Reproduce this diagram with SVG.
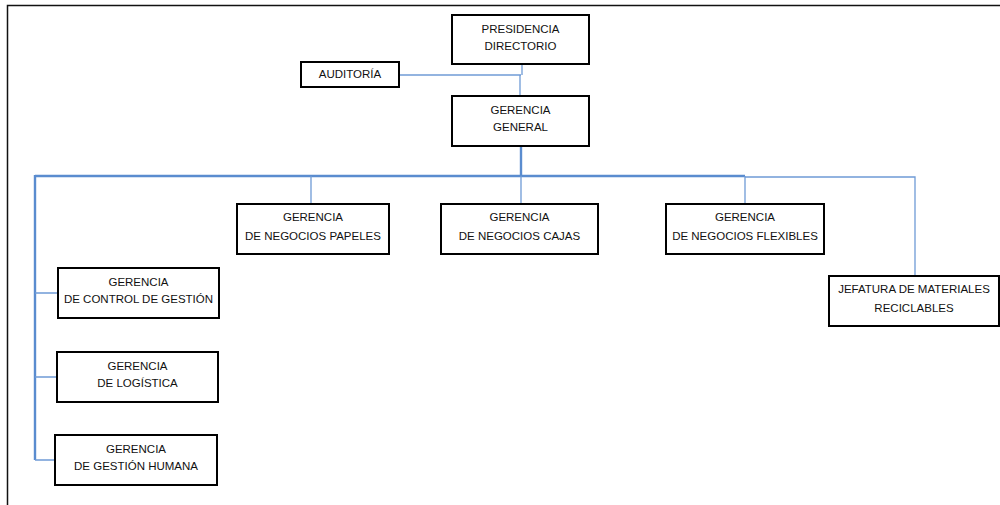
<svg xmlns="http://www.w3.org/2000/svg" width="1000" height="505" viewBox="0 0 1000 505">
<style>
.box{fill:#fff;stroke:#000;stroke-width:2}
.t{font-family:"Liberation Sans",Arial,sans-serif;font-size:11.5px;fill:#111;text-anchor:middle}
.c{fill:none;stroke:#6f9bd6;stroke-width:1.3}
.ct{fill:none;stroke:#5a8ccf;stroke-width:2.4}
.frame{fill:none;stroke:#111;stroke-width:1.5}
</style>
<rect width="1000" height="505" fill="#fff"/>
<path class="frame" d="M7.5,505 V5.5 H1000"/>
<g id="connectors">
<path class="c" d="M399,75 H521"/>
<path class="c" d="M522,64 V75 M520,75 V96"/>
<path class="ct" d="M521,146 V176"/>
<path class="ct" d="M35,176 H745"/>
<path class="c" d="M745,177 H915 V276"/>
<path class="c" d="M311,176 V204 M521,176 V204 M745,176 V204"/>
<path class="ct" d="M35,175 V460"/>
<path class="c" d="M35,293 H58 M35,377 H57 M35,460 H55"/>
</g>
<g id="presidencia"><rect class="box" x="452" y="15" width="137" height="49"/><text class="t" x="520.5" y="33">PRESIDENCIA</text><text class="t" x="520.5" y="50">DIRECTORIO</text></g>
<g id="auditoria"><rect class="box" x="301" y="62" width="98" height="25"/><text class="t" x="350" y="78">AUDITORÍA</text></g>
<g id="gerencia-general"><rect class="box" x="452" y="96" width="137" height="50"/><text class="t" x="520.5" y="114">GERENCIA</text><text class="t" x="520.5" y="131">GENERAL</text></g>
<g id="papeles"><rect class="box" x="237" y="204" width="152" height="50"/><text class="t" x="313" y="221">GERENCIA</text><text class="t" x="313" y="240">DE NEGOCIOS PAPELES</text></g>
<g id="cajas"><rect class="box" x="441" y="204" width="157" height="50"/><text class="t" x="519.5" y="221">GERENCIA</text><text class="t" x="519.5" y="240">DE NEGOCIOS CAJAS</text></g>
<g id="flexibles"><rect class="box" x="666" y="204" width="158" height="50"/><text class="t" x="745" y="221">GERENCIA</text><text class="t" x="745" y="240">DE NEGOCIOS FLEXIBLES</text></g>
<g id="jefatura"><rect class="box" x="829" y="276" width="170" height="50"/><text class="t" x="914" y="293">JEFATURA DE MATERIALES</text><text class="t" x="914" y="312">RECICLABLES</text></g>
<g id="control"><rect class="box" x="58" y="268" width="161" height="50"/><text class="t" x="138.5" y="286">GERENCIA</text><text class="t" x="138.5" y="303">DE CONTROL DE GESTIÓN</text></g>
<g id="logistica"><rect class="box" x="57" y="352" width="161" height="50"/><text class="t" x="137.5" y="370">GERENCIA</text><text class="t" x="137.5" y="387">DE LOGÍSTICA</text></g>
<g id="humana"><rect class="box" x="55" y="435" width="162" height="50"/><text class="t" x="136" y="453">GERENCIA</text><text class="t" x="136" y="470">DE GESTIÓN HUMANA</text></g>
</svg>
